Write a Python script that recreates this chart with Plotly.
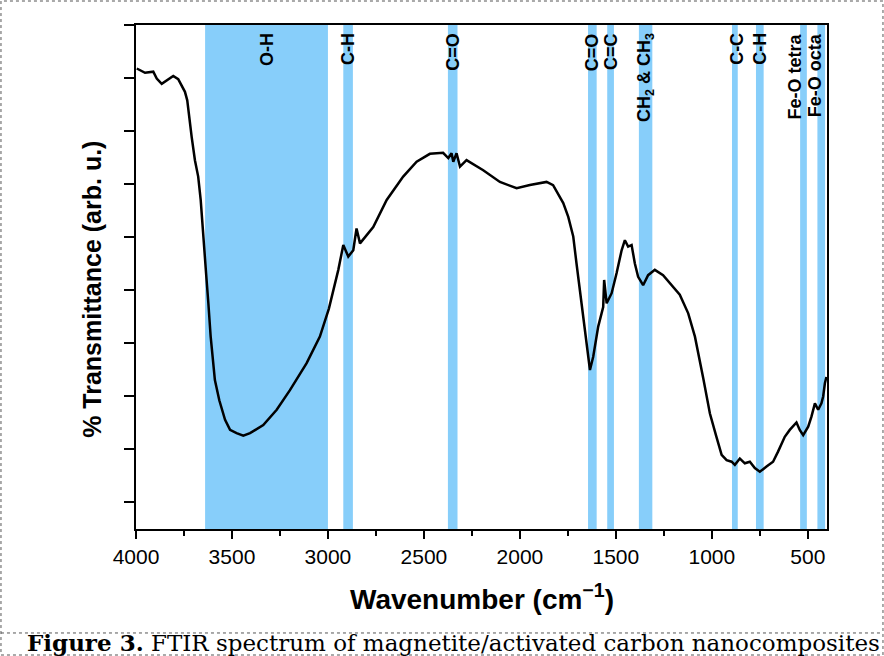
import plotly.graph_objects as go

# ---- spectrum ----
wavenumber = [3996, 3953, 3910, 3892, 3866, 3840, 3806, 3780, 3762, 3745, 3733, 3722, 3710, 3693,
              3676, 3663, 3653, 3646, 3635, 3623, 3611, 3589, 3566, 3536, 3510, 3476, 3441, 3406,
              3337, 3267, 3198, 3111, 3042, 2995, 2946, 2920, 2894, 2868, 2851, 2833, 2764, 2694,
              2608, 2538, 2469, 2400, 2373, 2356, 2347, 2330, 2312, 2278, 2191, 2104, 2017, 1948,
              1861, 1827, 1792, 1774, 1748, 1722, 1705, 1688, 1670, 1653, 1635, 1618, 1592, 1566,
              1561, 1548, 1522, 1496, 1470, 1453, 1436, 1418, 1401, 1384, 1358, 1332, 1297, 1254,
              1210, 1167, 1123, 1088, 1045, 1010, 976, 949, 923, 897, 880, 854, 828, 802, 776, 750,
              715, 681, 655, 620, 594, 559, 542, 524, 498, 481, 463, 446, 429, 420, 411, 403]
transmittance = [8.18, 8.10, 8.12, 7.99, 7.89, 7.95, 8.04, 7.98, 7.87, 7.74, 7.58, 7.21, 6.89, 6.45,
                 6.14, 5.70, 5.26, 4.82, 4.32, 3.75, 3.12, 2.30, 1.92, 1.55, 1.36, 1.30, 1.25, 1.30,
                 1.45, 1.74, 2.11, 2.62, 3.12, 3.65, 4.38, 4.85, 4.63, 4.75, 5.16, 4.88, 5.19, 5.70,
                 6.14, 6.42, 6.57, 6.59, 6.49, 6.58, 6.42, 6.58, 6.33, 6.45, 6.26, 6.04, 5.92, 5.98,
                 6.04, 5.98, 5.76, 5.64, 5.38, 5.01, 4.50, 4.00, 3.50, 2.99, 2.49, 2.74, 3.31, 3.68,
                 4.19, 3.75, 3.94, 4.32, 4.75, 4.94, 4.82, 4.85, 4.50, 4.25, 4.09, 4.28, 4.38, 4.28,
                 4.09, 3.91, 3.56, 3.12, 2.34, 1.67, 1.23, 0.89, 0.79, 0.76, 0.70, 0.82, 0.73, 0.76,
                 0.64, 0.57, 0.67, 0.76, 0.95, 1.23, 1.36, 1.50, 1.36, 1.26, 1.42, 1.61, 1.86, 1.74,
                 1.86, 1.99, 2.24, 2.36]

# ---- assignment bands ----
band_start = [3640, 2920, 2375, 1645, 1545, 1380, 895, 770, 540, 450]
band_end = [3000, 2870, 2325, 1600, 1510, 1310, 865, 730, 505, 410]
band_labels = ["O-H", "C-H", "C=O", "C=O", "C=C", "CH<sub>2</sub> &amp; CH<sub>3</sub>",
               "C-C", "C-H", "Fe-O tetra", "Fe-O octa"]
label_shift = [0, 0, 0, 0, 0, 0, 2, 0, -8, -6]

x_ticks = [4000, 3500, 3000, 2500, 2000, 1500, 1000, 500]
x_minor = [3750, 3250, 2750, 2250, 1750, 1250, 750]

BAND = "rgb(135,206,250)"
SANS = "Liberation Sans, Arial, sans-serif"

fig = go.Figure()
fig.add_trace(go.Scatter(x=wavenumber, y=transmittance, mode="lines",
                         line=dict(color="black", width=2.5), showlegend=False))

shapes = []
annotations = []
for s, e, lab, sh in zip(band_start, band_end, band_labels, label_shift):
    shapes.append(dict(type="rect", xref="x", yref="paper", x0=s, x1=e, y0=0, y1=1,
                       fillcolor=BAND, line=dict(width=0), layer="below"))
    annotations.append(dict(x=(s + e) / 2, y=1, xref="x", yref="paper", text=lab,
                            textangle=-90, showarrow=False, xanchor="center", yanchor="top",
                            yshift=-6, xshift=sh,
                            font=dict(family=SANS, size=18, color="black", weight="bold")))

# axis titles
annotations.append(dict(x=0.5, y=-0.135, xref="paper", yref="paper",
                        text="<b>Wavenumber (cm<sup>\u22121</sup>)</b>", showarrow=False,
                        xanchor="center", yanchor="middle",
                        font=dict(family=SANS, size=28, color="black")))
annotations.append(dict(x=-0.064, y=0.476, xref="paper", yref="paper",
                        text="<b>% Transmittance (arb. u.)</b>", showarrow=False, textangle=-90,
                        xanchor="center", yanchor="middle",
                        font=dict(family=SANS, size=25, color="black")))
# caption
annotations.append(dict(x=0.460, y=-0.256, xref="paper", yref="paper",
                        text="<b>Figure 3.</b> FTIR spectrum of magnetite/activated carbon nanocomposites",
                        showarrow=False, xanchor="center", yanchor="bottom",
                        font=dict(family="DejaVu Serif, serif", size=23, color="black")))

# dashed frame around the figure and caption
shapes.append(dict(type="rect", xref="paper", yref="paper", x0=-0.1954, x1=1.081,
                   y0=-0.25, y1=1.0476, line=dict(color="#555555", width=1, dash="dot"),
                   layer="above"))
shapes.append(dict(type="line", xref="paper", yref="paper", x0=-0.1954, x1=1.081,
                   y0=-0.2063, y1=-0.2063, line=dict(color="#555555", width=1, dash="dot")))

fig.update_layout(
    width=884, height=656,
    margin=dict(l=136, r=57, t=25, b=127),
    paper_bgcolor="white", plot_bgcolor="white",
    shapes=shapes, annotations=annotations,
    xaxis=dict(range=[4000, 400], tickmode="array", tickvals=x_ticks,
               ticks="outside", ticklen=8, tickwidth=2, tickcolor="black",
               minor=dict(tickmode="array", tickvals=x_minor,
                          ticks="outside", ticklen=5, tickwidth=2, tickcolor="black"),
               showline=True, linewidth=2, linecolor="black", mirror=True,
               showgrid=False, zeroline=False,
               tickfont=dict(family=SANS, size=21, color="black")),
    yaxis=dict(range=[-0.51, 9.001], tickmode="linear", tick0=0, dtick=1,
               ticks="outside", ticklen=10, tickwidth=2, tickcolor="black",
               showticklabels=False, showline=True, linewidth=2, linecolor="black",
               mirror=True, showgrid=False, zeroline=False),
)

fig.write_html("out.html")
